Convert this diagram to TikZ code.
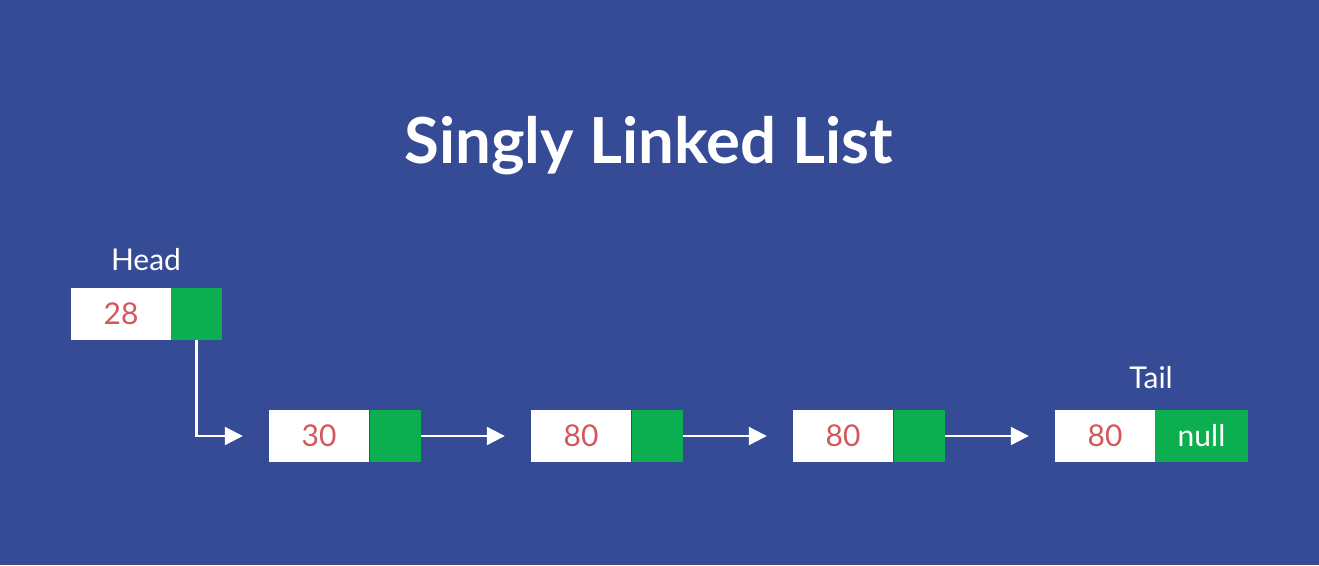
\documentclass[tikz,border=0pt]{standalone}
\usepackage{fontspec}
\setmainfont{Lato}
\usetikzlibrary{arrows.meta}
\definecolor{bg}{HTML}{364B96}
\definecolor{ptrgreen}{HTML}{0BAF50}
\definecolor{numred}{HTML}{D4575B}
\begin{document}
\begin{tikzpicture}[x=1pt,y=-1pt,
  datbox/.style={fill=white,minimum width=100pt,minimum height=52pt,inner sep=0pt,text=numred,font=\fontsize{30}{30}\selectfont},
  ptrbox/.style={fill=ptrgreen,minimum width=51pt,minimum height=52pt,inner sep=0pt,text=white,font=\fontsize{30}{30}\selectfont},
  lbl/.style={text=white,font=\fontsize{30}{30}\selectfont,anchor=base,inner sep=0pt},
  link/.style={draw=white,line width=2.2pt,-{Triangle[width=18pt,length=18pt]}}]
\fill[bg] (0,0) rectangle (1319,565);
\useasboundingbox (0,0) rectangle (1319,565);
\node[text=white,font=\fontsize{63.5}{63.5}\selectfont\bfseries,anchor=base,inner sep=0pt] (title) at (648.5,163) {Singly Linked List};
% nodes
\node[datbox] (d1) at (121,314) {28};
\node[ptrbox] (p1) at (196.5,314) {};
\node[datbox] (d2) at (319,436) {30};
\node[ptrbox] (p2) at (395,436) {};
\node[datbox] (d3) at (581,436) {80};
\node[ptrbox] (p3) at (657,436) {};
\node[datbox] (d4) at (843,436) {80};
\node[ptrbox] (p4) at (919,436) {};
\node[datbox] (d5) at (1105,436) {80};
\node[ptrbox,minimum width=93pt] (p5) at (1201.5,436) {null};
% labels
\node[lbl] (head) at (146,270.5) {Head};
\node[lbl] (tail) at (1151,388) {Tail};
% links
\draw[link] (p1.south) |- ([xshift=-26pt]d2.west);
\draw[link] (p2.east) -- ([xshift=-26pt]d3.west);
\draw[link] (p3.east) -- ([xshift=-26pt]d4.west);
\draw[link] (p4.east) -- ([xshift=-26pt]d5.west);
\end{tikzpicture}
\end{document}
